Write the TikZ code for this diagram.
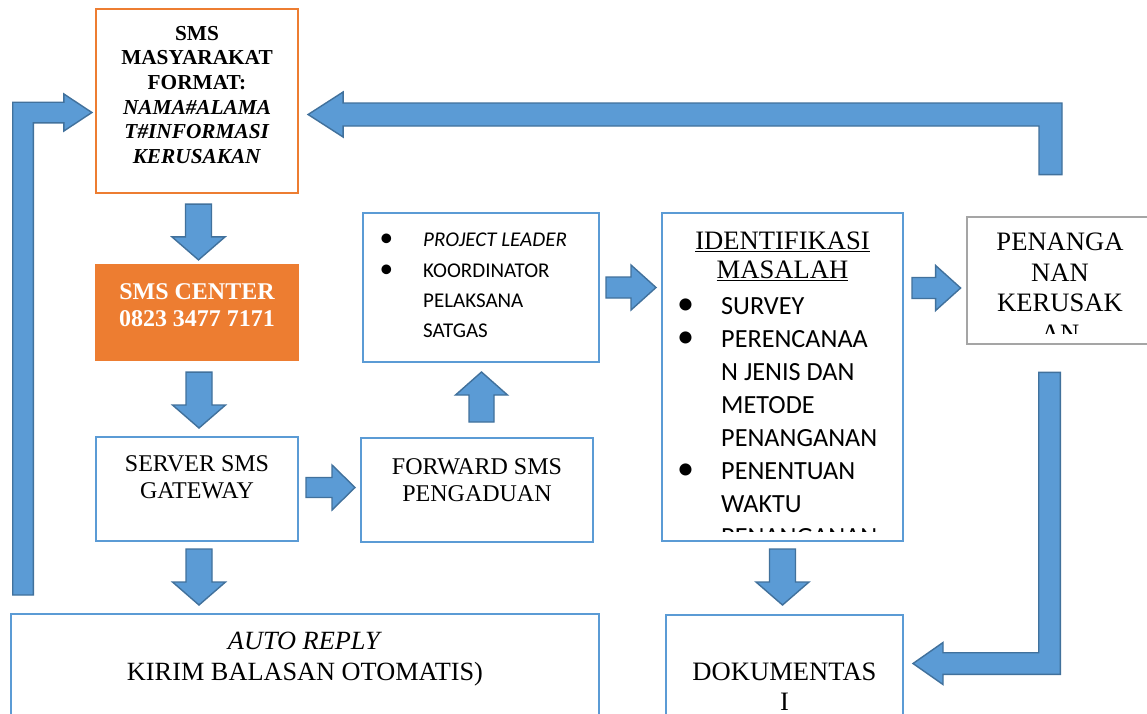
\documentclass[tikz,border=0pt]{standalone}
\usepackage{graphicx}
\usepackage{fontspec}
\setmainfont{Liberation Serif}
\newfontfamily\calibrifont{Carlito}
\usetikzlibrary{calc,positioning}

\definecolor{accentblue}{HTML}{5B9BD5}
\definecolor{accentblueline}{HTML}{41719C}
\definecolor{accentorange}{HTML}{ED7D31}
\definecolor{accentgray}{HTML}{A5A5A5}

\newcommand{\setfs}[2]{\fontsize{#1pt}{#2pt}\selectfont}
\newcommand{\itembullet}[1]{\makebox[0pt][r]{\scalebox{1.3}{\textbullet}\hspace{#1pt}}}

% straight block arrow: half shaft, half head, head length, start, tip
\newcommand{\blockarrow}[5]{%
  \draw[block_arrow] let \p1=(#4), \p2=(#5),
      \n1={abs((\x2)-(\x1))+abs((\y2)-(\y1))},
      \n2={((\x2)-(\x1))/\n1}, \n3={((\y2)-(\y1))/\n1},
      \p3=({\x2-#3*(\n2)},{\y2-#3*(\n3)}) in
    ({\x1-#1*(\n3)},{\y1+#1*(\n2)}) -- ({\x3-#1*(\n3)},{\y3+#1*(\n2)})
    -- ({\x3-#2*(\n3)},{\y3+#2*(\n2)}) -- (\p2)
    -- ({\x3+#2*(\n3)},{\y3-#2*(\n2)}) -- ({\x3+#1*(\n3)},{\y3-#1*(\n2)})
    -- ({\x1+#1*(\n3)},{\y1-#1*(\n2)}) -- cycle;}

% bent block arrow: half shaft, half head, head length, start, corner, tip
\newcommand{\bentarrow}[6]{%
  \draw[block_arrow] let \p1=(#4), \p2=(#5), \p3=(#6),
      \n1={abs((\x2)-(\x1))+abs((\y2)-(\y1))},
      \n2={abs((\x3)-(\x2))+abs((\y3)-(\y2))},
      \n3={((\x2)-(\x1))/\n1}, \n4={((\y2)-(\y1))/\n1},
      \n5={((\x3)-(\x2))/\n2}, \n6={((\y3)-(\y2))/\n2},
      \p4=({\x3-#3*(\n5)},{\y3-#3*(\n6)}) in
    ({\x1-#1*(\n4)},{\y1+#1*(\n3)})
    -- ({\x2-#1*(\n4)-#1*(\n6)},{\y2+#1*(\n3)+#1*(\n5)})
    -- ({\x4-#1*(\n6)},{\y4+#1*(\n5)})
    -- ({\x4-#2*(\n6)},{\y4+#2*(\n5)}) -- (\p3)
    -- ({\x4+#2*(\n6)},{\y4-#2*(\n5)})
    -- ({\x4+#1*(\n6)},{\y4-#1*(\n5)})
    -- ({\x2+#1*(\n4)+#1*(\n6)},{\y2-#1*(\n3)-#1*(\n5)})
    -- ({\x1+#1*(\n4)},{\y1-#1*(\n3)}) -- cycle;}

\tikzset{
        box/.style={rectangle, inner sep=0pt, fill=white},
        % Blue boxes
        box_blue/.style={box, draw=accentblue, line width=2pt},
        % Orange outlined box
        box_orange/.style={box, draw=accentorange, line width=2.2pt},
        % Orange filled box
        box_filled/.style={box, draw=accentorange, fill=accentorange, line width=2.2pt},
        % Grey box
        box_grey/.style={box, draw=accentgray, line width=2.8pt},
        % Texts in the boxes
        box_text/.style={anchor=north, inner sep=0pt, align=center},
        list_text/.style={anchor=north west, inner sep=0pt, align=left},
        % Block arrows
        block_arrow/.style={fill=accentblue, draw=accentblueline, line width=1.4pt, line join=miter}
}

\begin{document}
\begin{tikzpicture}[x=1pt, y=-1pt]
    \fill[white] (0,0) rectangle (1147,713);
    \useasboundingbox (0,0) rectangle (1147,713);

    % boxes
    \node[box_orange, minimum width=202pt, minimum height=184pt] (masy) at (197,101) {};
    \node[box_filled, minimum width=202pt, minimum height=95pt] (smscenter) at (197,312.5) {};
    \node[box_blue, minimum width=202pt, minimum height=104pt] (server) at (197,489) {};
    \node[box_blue, minimum width=232pt, minimum height=104pt] (forward) at (477,490) {};
    \node[box_blue, minimum width=236pt, minimum height=149pt] (project) at (481,287.5) {};
    \node[box_blue, minimum width=241pt, minimum height=328pt] (ident) at (782.5,377) {};
    \node[box_grey, minimum width=186pt, minimum height=127pt] (penang) at (1060,280.5) {};
    \node[box_blue, minimum width=588pt, minimum height=146pt] (autorep) at (305,687) {};
    \node[box_blue, minimum width=237pt, minimum height=146pt] (dokum) at (784.5,688) {};

    % texts
    \node[box_text, font=\setfs{21.3}{24.6}\bfseries] (masy_text) at (197,26)
        {SMS\\MASYARAKAT\\FORMAT:\\\textit{NAMA\#ALAMA}\\\textit{T\#INFORMASI}\\\textit{KERUSAKAN}};
    \node[box_text, text=white, font=\setfs{24}{27}\bfseries] (smscenter_text) at (197,283) {SMS CENTER\\0823 3477 7171};
    \node[box_text, font=\setfs{24}{27.5}] (server_text) at (197,455) {SERVER SMS\\GATEWAY};
    \node[box_text, font=\setfs{24}{27}] (forward_text) at (477,458) {FORWARD SMS\\PENGADUAN};
    \node[list_text, font=\calibrifont\setfs{21}{30.3}] (project_text) at (423,233)
        {\itembullet{30}\textit{PROJECT LEADER}\\\itembullet{30}KOORDINATOR\\PELAKSANA\\SATGAS};
    \begin{scope}
        \clip (ident.north west) rectangle ($(ident.south east)+(0,-11)$);
        \node[box_text, font=\setfs{26.6}{29}] (ident_title) at (782.5,232) {\underline{IDENTIFIKASI}\\\underline{MASALAH}};
        \node[list_text, font=\calibrifont\setfs{26.2}{33}] (ident_list) at (721,297)
            {\itembullet{27}SURVEY\\\itembullet{27}PERENCANAA\\N JENIS DAN\\METODE\\PENANGANAN\\\itembullet{27}PENENTUAN\\WAKTU\\PENANGANAN};
    \end{scope}
    \begin{scope}
        \clip (penang.north west) rectangle ($(penang.south east)+(0,-12)$);
        \node[box_text, font=\setfs{26.6}{30.5}] (penang_text) at (1060,233) {PENANGA\\NAN\\KERUSAK\\AN};
    \end{scope}
    \node[box_text, font=\setfs{26.3}{31}] (autorep_text) at (305,632) {\textit{AUTO REPLY}\\KIRIM BALASAN OTOMATIS)};
    \node[box_text, font=\setfs{26.6}{29.5}] (dokum_text) at (784.5,663) {DOKUMENTAS\\I};

    % arrows
    \coordinate (a1s) at ($(masy.south)+(1.5,10)$);
    \coordinate (a1e) at ($(smscenter.north)+(1.5,-4)$);
    \coordinate (a2s) at ($(smscenter.south)+(2,11)$);
    \coordinate (a2e) at ($(server.north)+(2,-8)$);
    \coordinate (a3s) at ($(server.south)+(2,7)$);
    \coordinate (a3e) at ($(server.south |- autorep.north)+(2,-8)$);
    \coordinate (a4s) at ($(server.east)+(7,-1.5)$);
    \coordinate (a4e) at ($(forward.west |- a4s)+(-5,0)$);
    \coordinate (a5s) at ($(forward.north)+(4.5,-15)$);
    \coordinate (a5e) at ($(project.south)+(0.5,9)$);
    \coordinate (a6s) at ($(project.east)+(6,0)$);
    \coordinate (a6e) at ($(ident.west |- a6s)+(-5,0)$);
    \coordinate (a7s) at ($(ident.east |- penang.west)+(8,7.5)$);
    \coordinate (a7e) at ($(penang.west)+(-5,7.5)$);
    \coordinate (a8s) at ($(ident.south)+(0,7)$);
    \coordinate (a8e) at ($(ident.south |- dokum.north)+(0,-9)$);
    \blockarrow{13}{26.5}{23}{a1s}{a1e}
    \blockarrow{13}{26.5}{23}{a2s}{a2e}
    \blockarrow{13}{26.5}{23}{a3s}{a3e}
    \blockarrow{10}{22.5}{23}{a4s}{a4e}
    \blockarrow{12.5}{26}{23}{a5s}{a5e}
    \blockarrow{10.5}{22.5}{25}{a6s}{a6e}
    \blockarrow{10.5}{22.5}{25}{a7s}{a7e}
    \blockarrow{13}{26.5}{23}{a8s}{a8e}

    \coordinate (top_tip) at ($(masy.east)+(9,13.5)$);
    \coordinate (top_start) at ($(penang.north)+(-9.5,-41)$);
    \coordinate (top_corner) at (top_start |- top_tip);
    \bentarrow{11.5}{22.5}{35}{top_start}{top_corner}{top_tip}

    \coordinate (back_tip) at ($(masy.west)+(-3,11.5)$);
    \coordinate (back_start) at ($(autorep.north west)+(13,-18)$);
    \coordinate (back_corner) at (back_start |- back_tip);
    \bentarrow{10.3}{18.5}{28}{back_start}{back_corner}{back_tip}

    \coordinate (doc_start) at ($(penang.south)+(-10.5,27)$);
    \coordinate (doc_tip) at ($(dokum.east)+(9,-24.5)$);
    \coordinate (doc_corner) at (doc_start |- doc_tip);
    \bentarrow{10.8}{21}{30}{doc_start}{doc_corner}{doc_tip}
\end{tikzpicture}
\end{document}
